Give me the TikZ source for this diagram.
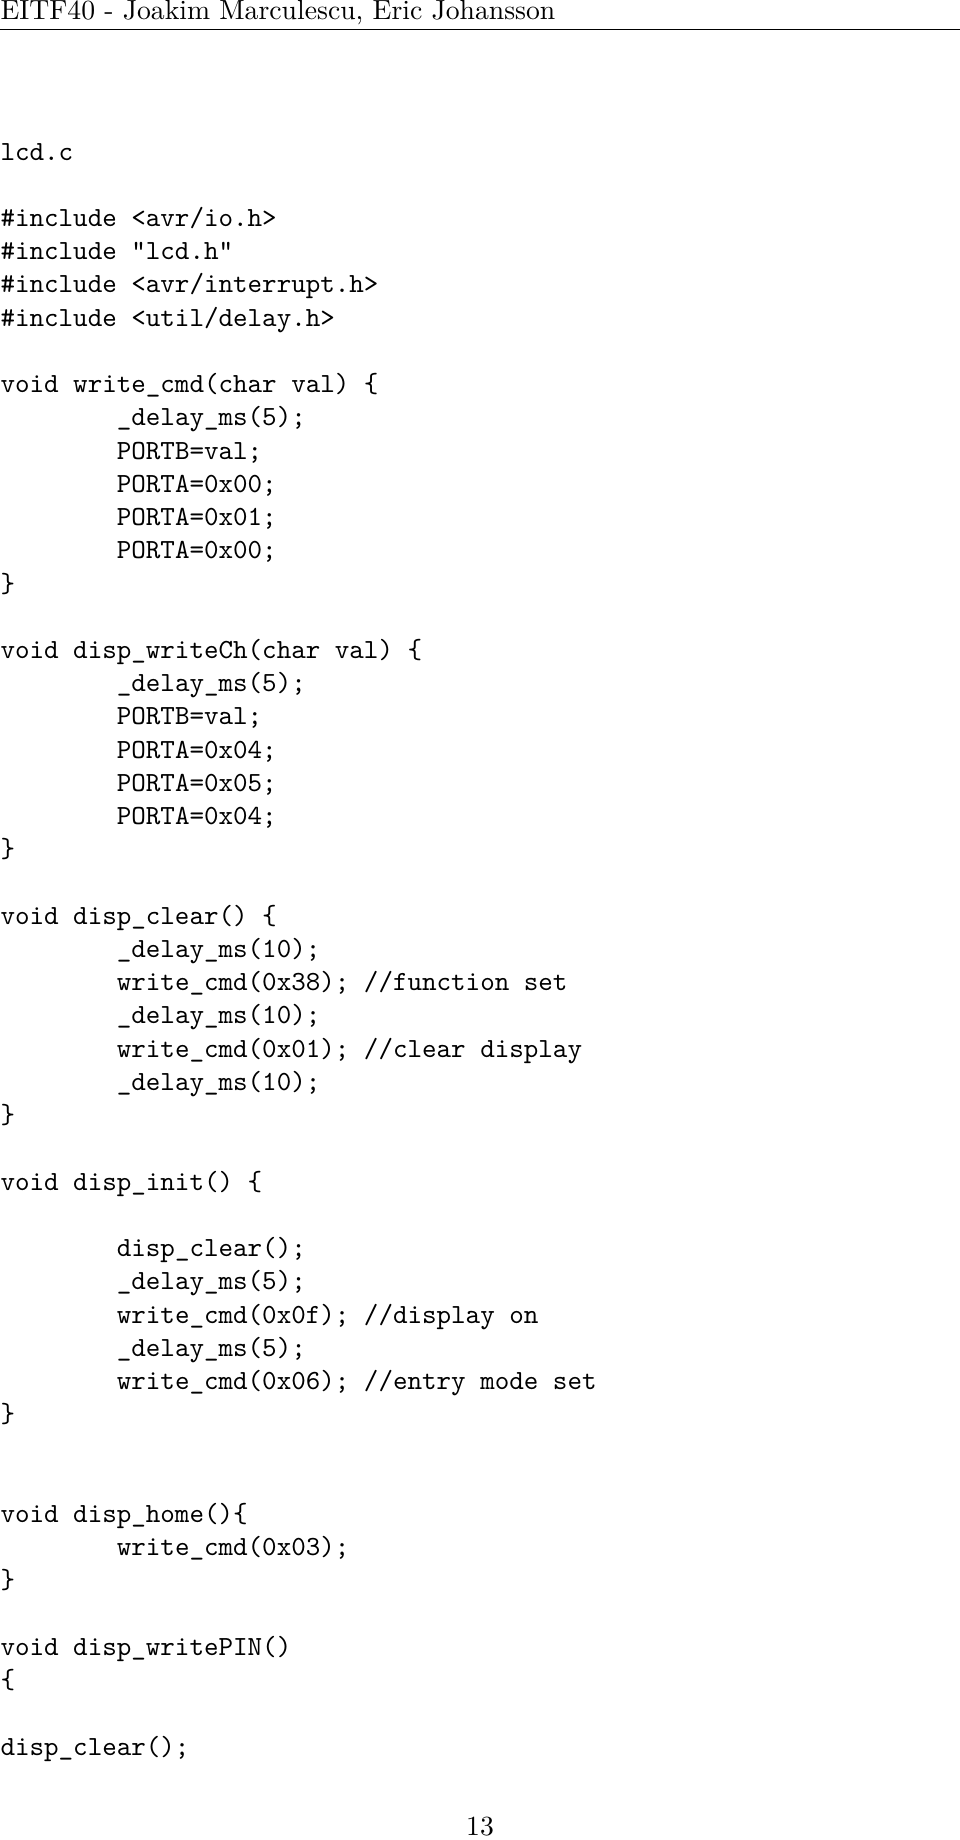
\documentclass[tikz,border=0pt]{standalone}
\usepackage{tikz}

\tikzset{
  code/.style={anchor=base west, inner sep=0pt, font=\ttfamily},
  plain/.style={anchor=base west, inner sep=0pt}
}

\begin{document}
\begin{tikzpicture}[x=1pt, y=1pt]
        \useasboundingbox (0,0) rectangle (346.7,-664.5);
        % header and rule
        \node[plain] (head) at (0,-7.2) {EITF40 - Joakim Marculescu, Eric Johansson};
        \coordinate (ruleL) at (0,-10.8);
        \coordinate (ruleR) at (346.7,-10.8);
        \draw[line width=0.4pt] (ruleL) -- (ruleR);
        % file name and includes
        \node[code] (l0) at (0,-57.8) {lcd.c};
        \node[code] (l2) at (0,-81.8) {\#include <avr/io.h>};
        \node[code] (l3) at (0,-93.8) {\#include "lcd.h"};
        \node[code] (l4) at (0,-105.8) {\#include <avr/interrupt.h>};
        \node[code] (l5) at (0,-117.8) {\#include <util/delay.h>};
        % write_cmd
        \node[code] (l7) at (0,-141.8) {void write\_cmd(char val) \{};
        \node[code] (l8) at (42,-153.8) {\_delay\_ms(5);};
        \node[code] (l9) at (42,-165.8) {PORTB=val;};
        \node[code] (l10) at (42,-177.8) {PORTA=0x00;};
        \node[code] (l11) at (42,-189.8) {PORTA=0x01;};
        \node[code] (l12) at (42,-201.8) {PORTA=0x00;};
        \node[code] (l13) at (0,-213.8) {\}};
        % disp_writeCh
        \node[code] (l15) at (0,-237.8) {void disp\_writeCh(char val) \{};
        \node[code] (l16) at (42,-249.8) {\_delay\_ms(5);};
        \node[code] (l17) at (42,-261.8) {PORTB=val;};
        \node[code] (l18) at (42,-273.8) {PORTA=0x04;};
        \node[code] (l19) at (42,-285.8) {PORTA=0x05;};
        \node[code] (l20) at (42,-297.8) {PORTA=0x04;};
        \node[code] (l21) at (0,-309.8) {\}};
        % disp_clear
        \node[code] (l23) at (0,-333.8) {void disp\_clear() \{};
        \node[code] (l24) at (42,-345.8) {\_delay\_ms(10);};
        \node[code] (l25) at (42,-357.8) {write\_cmd(0x38); //function set};
        \node[code] (l26) at (42,-369.8) {\_delay\_ms(10);};
        \node[code] (l27) at (42,-381.8) {write\_cmd(0x01); //clear display};
        \node[code] (l28) at (42,-393.8) {\_delay\_ms(10);};
        \node[code] (l29) at (0,-405.8) {\}};
        % disp_init
        \node[code] (l31) at (0,-429.8) {void disp\_init() \{};
        \node[code] (l33) at (42,-453.8) {disp\_clear();};
        \node[code] (l34) at (42,-465.8) {\_delay\_ms(5);};
        \node[code] (l35) at (42,-477.8) {write\_cmd(0x0f); //display on};
        \node[code] (l36) at (42,-489.8) {\_delay\_ms(5);};
        \node[code] (l37) at (42,-501.8) {write\_cmd(0x06); //entry mode set};
        \node[code] (l38) at (0,-513.8) {\}};
        % disp_home
        \node[code] (l41) at (0,-549.8) {void disp\_home()\{};
        \node[code] (l42) at (42,-561.8) {write\_cmd(0x03);};
        \node[code] (l43) at (0,-573.8) {\}};
        % disp_writePIN
        \node[code] (l45) at (0,-597.8) {void disp\_writePIN()};
        \node[code] (l46) at (0,-609.8) {\{};
        \node[code] (l48) at (0,-633.8) {disp\_clear();};
        % page number
        \node[anchor=base, inner sep=0pt] (pagenum) at (173.35,-662.7) {13};
    \end{tikzpicture}
\end{document}
